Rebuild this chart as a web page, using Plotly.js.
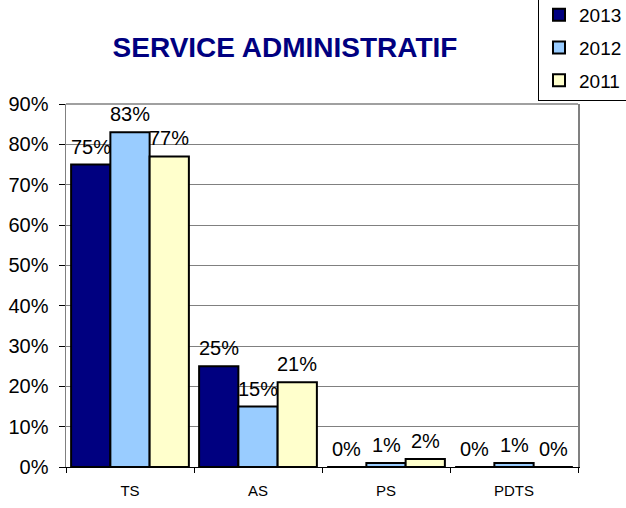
<!DOCTYPE html>
<html>
<head>
<meta charset="utf-8">
<script src="https://cdn.plot.ly/plotly-3.0.1.min.js"></script>
<style>html,body{margin:0;padding:0;background:#fff;}#chart{width:626px;height:508px;}</style>
</head>
<body>
<div id="chart"></div>
<script>
const categories = ["TS", "AS", "PS", "PDTS"];
const seriesNames = ["2013", "2012", "2011"];
const values2013 = [75, 25, 0, 0];
const values2012 = [83, 15, 1, 1];
const values2011 = [77, 21, 2, 0];
const yTicks = [0, 10, 20, 30, 40, 50, 60, 70, 80, 90];

const allValues = [values2013, values2012, values2011];
const colors = ["#000080", "#99CCFF", "#FFFFCC"];
const FONT = "Liberation Sans, Arial, sans-serif";
const bargap = 0.08;
const barW = (1 - bargap) / 3;

const traces = allValues.map((vals, i) => ({
  type: "bar",
  name: seriesNames[i],
  x: categories,
  y: vals,
  legendgroup: "g" + i,
  marker: { color: colors[i], line: { color: "#000000", width: 2 } },
  hoverinfo: "skip"
}));

const annotations = [];
allValues.forEach((vals, i) => {
  vals.forEach((v, j) => {
    annotations.push({
      x: j + (i - 1) * barW,
      y: v,
      xref: "x", yref: "y",
      text: v + "%",
      showarrow: false,
      yanchor: "bottom",
      yshift: 5,
      font: { family: FONT, size: 20, color: "#000000" }
    });
  });
});

const layout = {
  width: 626,
  height: 508,
  margin: { l: 66, r: 48, t: 104, b: 41, pad: 0, autoexpand: false },
  paper_bgcolor: "#ffffff",
  plot_bgcolor: "#ffffff",
  barmode: "group",
  bargap: bargap,
  bargroupgap: 0,
  title: {
    text: "<b>SERVICE ADMINISTRATIF</b>",
    font: { family: FONT, size: 28, color: "#000080" },
    xref: "container", yref: "container",
    x: 285 / 626, xanchor: "center",
    y: 1 - 47 / 508, yanchor: "middle"
  },
  xaxis: {
    type: "category",
    showgrid: false,
    showline: true,
    linecolor: "#000000",
    linewidth: 1,
    ticks: "outside",
    tickson: "boundaries",
    ticklen: 5,
    ticklabelstandoff: 10,
    tickcolor: "#000000",
    tickfont: { family: FONT, size: 15, color: "#000000" },
    zeroline: false
  },
  yaxis: {
    range: [0, 90],
    tickvals: yTicks,
    ticktext: yTicks.map(t => t + "%"),
    showgrid: true,
    gridcolor: "#808080",
    gridwidth: 1,
    showline: true,
    mirror: true,
    linecolor: "#808080",
    linewidth: 1.5,
    ticks: "outside",
    ticklen: 6,
    ticklabelstandoff: 6,
    tickcolor: "#000000",
    tickfont: { family: FONT, size: 20, color: "#000000" },
    zeroline: false
  },
  showlegend: true,
  legend: {
    x: (538 - 66) / 512,
    xanchor: "left",
    y: (467 + 5) / 363,
    yanchor: "top",
    bordercolor: "#000000",
    borderwidth: 1,
    bgcolor: "#ffffff",
    traceorder: "grouped",
    tracegroupgap: 5,
    font: { family: FONT, size: 19, color: "#000000" }
  },
  shapes: [
    { type: "line", xref: "paper", yref: "paper", x0: 0, x1: 1, y0: 1, y1: 1,
      line: { color: "#808080", width: 1.5 } }
  ],
  annotations: annotations
};

Plotly.newPlot("chart", traces, layout, { displayModeBar: false, staticPlot: true });
</script>
</body>
</html>
